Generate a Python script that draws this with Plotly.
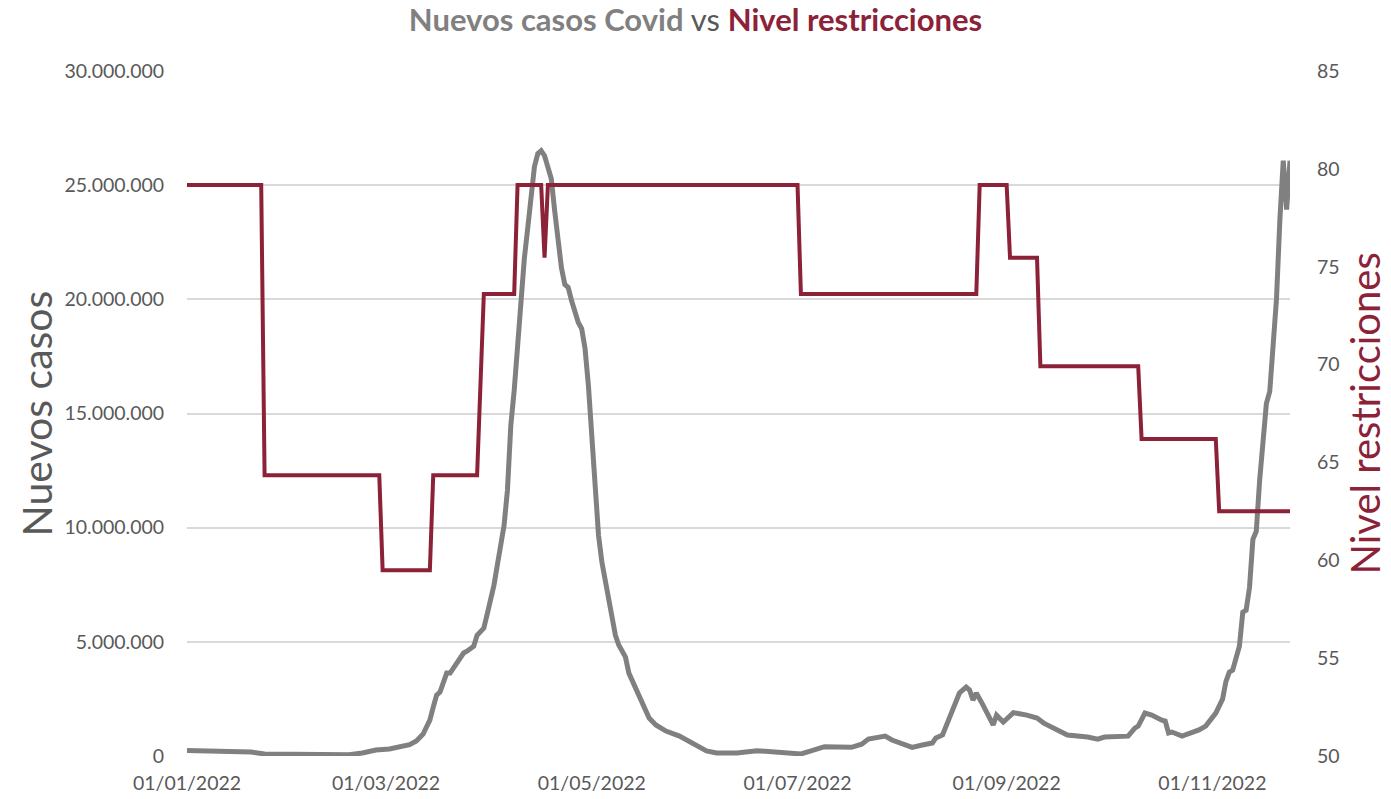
import plotly.graph_objects as go

# Nuevos casos (millones) por fecha
casos_fechas = [
    "2022-01-01", "2022-01-17", "2022-01-20", "2022-01-24", "2022-02-05", "2022-02-18",
    "2022-02-22", "2022-02-26", "2022-03-02", "2022-03-05", "2022-03-08", "2022-03-10",
    "2022-03-12", "2022-03-13", "2022-03-14", "2022-03-15", "2022-03-16", "2022-03-17",
    "2022-03-18", "2022-03-19", "2022-03-20", "2022-03-21", "2022-03-22", "2022-03-23",
    "2022-03-24", "2022-03-25", "2022-03-26", "2022-03-27", "2022-03-28", "2022-03-29",
    "2022-03-30", "2022-03-31", "2022-04-01", "2022-04-02", "2022-04-03", "2022-04-04",
    "2022-04-05", "2022-04-06", "2022-04-07", "2022-04-08", "2022-04-09", "2022-04-10",
    "2022-04-11", "2022-04-12", "2022-04-13", "2022-04-14", "2022-04-15", "2022-04-16",
    "2022-04-17", "2022-04-18", "2022-04-19", "2022-04-20", "2022-04-21", "2022-04-22",
    "2022-04-23", "2022-04-24", "2022-04-25", "2022-04-26", "2022-04-27", "2022-04-28",
    "2022-04-29", "2022-04-30", "2022-05-01", "2022-05-02", "2022-05-03", "2022-05-04",
    "2022-05-05", "2022-05-06", "2022-05-07", "2022-05-08", "2022-05-09", "2022-05-10",
    "2022-05-11", "2022-05-12", "2022-05-14", "2022-05-16", "2022-05-18", "2022-05-20",
    "2022-05-23", "2022-05-27", "2022-05-31", "2022-06-04", "2022-06-07", "2022-06-13",
    "2022-06-19", "2022-06-26", "2022-07-02", "2022-07-05", "2022-07-09", "2022-07-17",
    "2022-07-20", "2022-07-22", "2022-07-25", "2022-07-27", "2022-07-29", "2022-08-04",
    "2022-08-07", "2022-08-10", "2022-08-11", "2022-08-13", "2022-08-15", "2022-08-17",
    "2022-08-18", "2022-08-20", "2022-08-21", "2022-08-22", "2022-08-23", "2022-08-25",
    "2022-08-28", "2022-08-29", "2022-08-31", "2022-09-01", "2022-09-03", "2022-09-07",
    "2022-09-10", "2022-09-12", "2022-09-17", "2022-09-19", "2022-09-25", "2022-09-28",
    "2022-09-30", "2022-10-07", "2022-10-09", "2022-10-10", "2022-10-12", "2022-10-14",
    "2022-10-17", "2022-10-18", "2022-10-19", "2022-10-20", "2022-10-23", "2022-10-25",
    "2022-10-28", "2022-10-30", "2022-11-02", "2022-11-04", "2022-11-05", "2022-11-06",
    "2022-11-07", "2022-11-09", "2022-11-10", "2022-11-11", "2022-11-12", "2022-11-13",
    "2022-11-14", "2022-11-15", "2022-11-17", "2022-11-18", "2022-11-20", "2022-11-21",
    "2022-11-22", "2022-11-23", "2022-11-24",
]
casos_millones = [
    0.24, 0.22, 0.17, 0.09, 0.05, 0.06,
    0.13, 0.26, 0.31, 0.39, 0.50, 0.66,
    0.96, 1.27, 1.57, 2.14, 2.67, 2.80,
    3.15, 3.63, 3.63, 3.85, 4.07, 4.29,
    4.51, 4.59, 4.68, 4.81, 5.29, 5.42,
    5.60, 6.21, 6.82, 7.48, 8.36, 9.10,
    10.10, 11.64, 14.48, 16.01, 17.98, 20.17,
    21.78, 23.10, 24.76, 25.81, 26.38, 26.51,
    26.29, 25.81, 25.28, 23.88, 22.57, 21.39,
    20.65, 20.52, 19.95, 19.42, 18.99, 18.72,
    17.85, 16.23, 14.26, 11.81, 9.67, 8.49,
    7.70, 6.82, 5.95, 5.29, 4.86, 4.55,
    4.33, 3.63, 2.97, 2.41, 1.66, 1.36,
    1.09, 0.87, 0.57, 0.22, 0.13, 0.13,
    0.23, 0.14, 0.09, 0.22, 0.41, 0.38,
    0.52, 0.74, 0.79, 0.87, 0.70, 0.38,
    0.48, 0.57, 0.79, 0.92, 1.66, 2.32,
    2.76, 3.02, 2.89, 2.45, 2.76, 2.23,
    1.36, 1.79, 1.49, 1.62, 1.90, 1.79,
    1.66, 1.44, 1.05, 0.92, 0.83, 0.74,
    0.83, 0.87, 1.22, 1.31, 1.88, 1.79,
    1.57, 1.53, 1.01, 1.05, 0.87, 0.96,
    1.14, 1.31, 1.88, 2.49, 3.26, 3.67,
    3.76, 4.81, 6.30, 6.39, 7.39, 9.49,
    9.84, 12.07, 15.44, 15.97, 20.03, 23.49,
    26.07, 23.93, 26.07,
]

# Nivel de restricciones: fechas de cambio y valor
nivel_fechas = [
    "2022-01-01", "2022-01-23", "2022-01-24", "2022-02-27", "2022-02-28",
    "2022-03-14", "2022-03-15", "2022-03-28", "2022-03-30", "2022-04-08",
    "2022-04-09", "2022-04-16", "2022-04-17", "2022-04-18", "2022-07-01",
    "2022-07-02", "2022-08-23", "2022-08-24", "2022-09-01", "2022-09-02",
    "2022-09-10", "2022-09-11", "2022-10-10", "2022-10-11", "2022-11-02",
    "2022-11-03", "2022-11-24",
]
nivel_valores = [
    79.17, 79.17, 64.35, 64.35, 59.49,
    59.49, 64.35, 64.35, 73.61, 73.61,
    79.17, 79.17, 75.46, 79.17, 79.17,
    73.61, 73.61, 79.17, 79.17, 75.46,
    75.46, 69.91, 69.91, 66.20, 66.20,
    62.50, 62.50,
]

fechas_ticks = ["2022-01-01", "2022-03-01", "2022-05-01", "2022-07-01", "2022-09-01", "2022-11-01"]
etiquetas_ticks = ["01/01/2022", "01/03/2022", "01/05/2022", "01/07/2022", "01/09/2022", "01/11/2022"]

GRIS = "#808080"
ROJO = "#8C2238"
TEXTO = "#595959"
FUENTE = "Lato"

casos = [v * 1_000_000 for v in casos_millones]

fig = go.Figure()
fig.add_trace(go.Scatter(
    x=casos_fechas, y=casos, mode="lines", name="Nuevos casos",
    line=dict(color=GRIS, width=5), yaxis="y",
))
fig.add_trace(go.Scatter(
    x=nivel_fechas, y=nivel_valores, mode="lines", name="Nivel restricciones",
    line=dict(color=ROJO, width=4), yaxis="y2",
))

fig.update_layout(
    width=1391, height=799,
    margin=dict(l=187, r=101, t=71, b=43),
    paper_bgcolor="white", plot_bgcolor="white",
    separators=",.",
    showlegend=False,
    font=dict(family=FUENTE, color=TEXTO, size=19),
    title=dict(
        text=("<b>Nuevos casos Covid</b> <span style='color:#595959'>vs</span> "
              f"<b><span style='color:{ROJO}'>Nivel restricciones</span></b>"),
        x=0.5, xref="container", xanchor="center",
        y=1 - 20 / 799, yref="container", yanchor="middle",
        font=dict(family=FUENTE, size=31, color=GRIS),
    ),
    xaxis=dict(
        type="date", automargin=False,
        range=["2022-01-01", "2022-11-24"],
        tickvals=fechas_ticks, ticktext=etiquetas_ticks,
        showgrid=False, zeroline=False, showline=False,
        ticks="outside", ticklen=10, tickcolor="rgba(0,0,0,0)",
        tickfont=dict(size=19.5, color=TEXTO),
    ),
    yaxis=dict(
        automargin=False,
        range=[0, 30_000_000], dtick=5_000_000, tickformat=",.0f",
        showgrid=True, gridcolor="#D9D9D9", gridwidth=1.5,
        zeroline=False, showline=False,
        ticks="outside", ticklen=18, tickcolor="rgba(0,0,0,0)",
        tickfont=dict(size=19.5, color=TEXTO),
    ),
    yaxis2=dict(
        automargin=False,
        range=[50, 85], dtick=5, overlaying="y", side="right",
        showgrid=False, zeroline=False, showline=False,
        ticks="outside", ticklen=22, tickcolor="rgba(0,0,0,0)",
        tickfont=dict(size=19.5, color=TEXTO),
    ),
    annotations=[
        dict(text="Nuevos casos", xref="paper", yref="paper",
             x=(36 - 187) / 1103, y=0.5, xanchor="center", yanchor="middle",
             textangle=-90, showarrow=False,
             font=dict(family=FUENTE, size=41, color=TEXTO)),
        dict(text="Nivel restricciones", xref="paper", yref="paper",
             x=(1390 - 187) / 1103, y=0.5, xanchor="right", yanchor="middle",
             textangle=-90, showarrow=False,
             font=dict(family=FUENTE, size=40, color=ROJO)),
    ],
)

fig.write_html("out.html")
